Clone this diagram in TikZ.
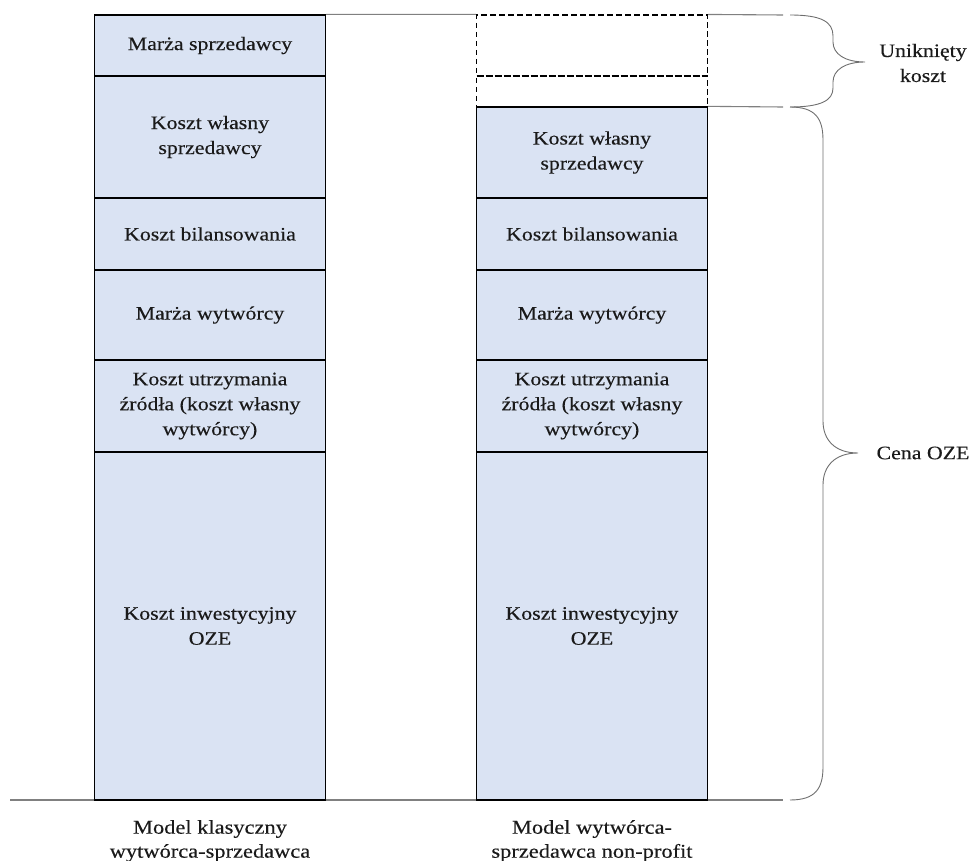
\documentclass[tikz,border=0pt]{standalone}
\usepackage{fontspec}
\setmainfont{Liberation Serif}[FakeStretch=1.15,FakeBold=0.3]
\definecolor{cellblue}{HTML}{DAE3F3}
\definecolor{guidegray}{HTML}{808080}
\definecolor{bracegray}{HTML}{6E6E6E}
\definecolor{inkgray}{HTML}{1A1A1A}
\newcommand{\boxfont}{\fontsize{19}{25}\selectfont}
\newcommand{\capfont}{\fontsize{19.5}{24}\selectfont}
\begin{document}
\begin{tikzpicture}[x=1pt,y=-1pt,
  cell/.style={draw=black, line width=1.3pt, fill=cellblue, minimum width=231pt,
    inner sep=0pt, align=center, font=\boxfont, text=inkgray},
  ghost/.style={draw=black, line width=1.1pt, dash pattern=on 5.5pt off 3.5pt,
    minimum width=231pt, inner sep=0pt},
  guide/.style={draw=guidegray, line width=1.1pt},
  curly/.style={draw=bracegray, line width=0.9pt},
  sidelabel/.style={align=center, font=\boxfont, text=inkgray},
  caption/.style={align=center, font=\capfont, text=inkgray}]
\useasboundingbox (0,0) rectangle (970,861);

% ground line under both columns
\coordinate (groundL) at (10,800);
\coordinate (groundR) at (783,800);
\draw[guide] (groundL) -- (groundR);

% classic producer-seller model
\node[cell, minimum height=61pt]  (lA) at (210,45.5) {Marża sprzedawcy};
\node[cell, minimum height=122pt] (lB) at (210,137)  {Koszt własny\\sprzedawcy};
\node[cell, minimum height=72pt]  (lC) at (210,234)  {Koszt bilansowania};
\node[cell, minimum height=90pt]  (lD) at (210,315)  {Marża wytwórcy};
\node[cell, minimum height=92pt]  (lE) at (210,406)  {Koszt utrzymania\\źródła (koszt własny\\wytwórcy)};
\node[cell, minimum height=348pt] (lF) at (210,626)  {Koszt inwestycyjny\\OZE};

% non-profit producer-seller model
\node[ghost, minimum height=61pt] (rA) at (592,45.5) {};
\node[ghost, minimum height=31pt] (rB) at (592,91.5) {};
\node[cell, minimum height=91pt]  (rC) at (592,152.5) {Koszt własny\\sprzedawcy};
\node[cell, minimum height=72pt]  (rD) at (592,234)  {Koszt bilansowania};
\node[cell, minimum height=90pt]  (rE) at (592,315)  {Marża wytwórcy};
\node[cell, minimum height=92pt]  (rF) at (592,406)  {Koszt utrzymania\\źródła (koszt własny\\wytwórcy)};
\node[cell, minimum height=348pt] (rG) at (592,626)  {Koszt inwestycyjny\\OZE};

% level guides
\coordinate (topEnd) at (783,15);
\coordinate (midEnd) at (783,107);
\draw[guide] (lA.north east) -- (rA.north west);
\draw[guide] (rA.north east) -- (topEnd);
\draw[guide] (rC.north east) -- (midEnd);

% braces
\draw[curly] (790,15) .. controls (822,15) and (833,22) .. (833,36) -- (833,42)
  .. controls (833,54) and (845,62) .. (865,62)
  .. controls (845,62) and (833,70) .. (833,82) -- (833,88)
  .. controls (833,100) and (822,107) .. (790,107);
\draw[curly] (790,107) .. controls (815,107) and (823,118) .. (823,140) -- (823,421)
  .. controls (823,440) and (835,453) .. (858,453)
  .. controls (835,453) and (823,466) .. (823,485) -- (823,767)
  .. controls (823,789) and (815,800) .. (790,800);

% side labels
\node[sidelabel] (avoided) at (923,63) {Uniknięty\\koszt};
\node[sidelabel] (price) at (923,453) {Cena OZE};

% column captions
\node[caption] (capL) at (210,841) {Model klasyczny\\wytwórca-sprzedawca};
\node[caption] (capR) at (592,841) {Model wytwórca-\\sprzedawca non-profit};
\end{tikzpicture}
\end{document}
